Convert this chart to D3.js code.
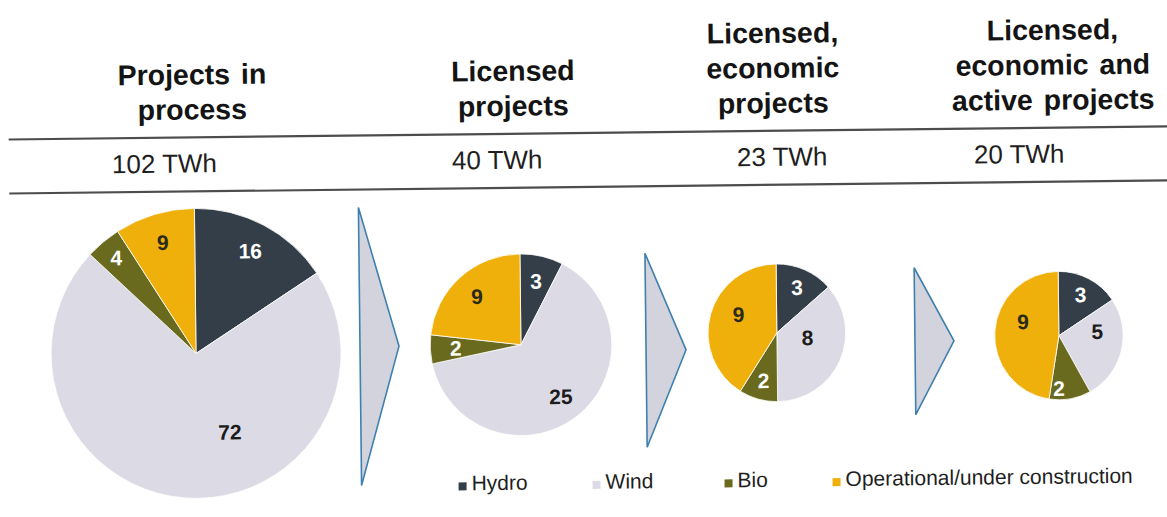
<!DOCTYPE html>
<html>
<head>
<meta charset="utf-8">
<script src="https://cdn.jsdelivr.net/npm/d3@7"></script>
<style>
  body { margin: 0; background: #fff; }
  svg { display: block; }
</style>
</head>
<body>
<svg id="chart" width="1167" height="517"></svg>
<script>
// ---- Data ----
const stageTitles = [
  ["Projects in", "process"],
  ["Licensed", "projects"],
  ["Licensed,", "economic", "projects"],
  ["Licensed,", "economic and", "active projects"]
];
const totals = [102, 40, 23, 20];               // TWh per stage
const seriesNames = ["Hydro", "Wind", "Bio", "Operational/under construction"];
const hydro       = [16, 3, 3, 3];
const wind        = [72, 25, 8, 5];
const bio         = [4, 2, 2, 2];
const operational = [9, 9, 9, 9];

// ---- Styles ----
const fill = {
  "Hydro": "#333e48",
  "Wind": "#dcdbe5",
  "Bio": "#6a6a1f",
  "Operational/under construction": "#efb00c"
};
const labelFill = {
  "Hydro": "#ffffff",
  "Wind": "#1c1c1c",
  "Bio": "#ffffff",
  "Operational/under construction": "#2a2a1a"
};

// ---- Layout ----
const W = 1167, H = 517;
const pieCx = [195, 520, 776, 1058];
const pieCy = [349, 344, 335, 341];
const headCx = [194, 515, 775, 1055];
const headBaseline = 115, headStep = 35;
const totalX = [113, 453, 738, 975];
const totalBaseline = 168;
const arrows = [ {x: 359, w: 39, cy: 344, h: 278},
                 {x: 645, w: 40, cy: 351, h: 194},
                 {x: 914, w: 39, cy: 345, h: 147} ];
const labelFrac = [0.8, 0.72, 0.72, 0.72];
// angular shift (deg) and radial fraction for labels set off their slice middle
const labelTweak = {
  "0|Wind": {d: -28, f: 0.59},
  "0|Bio": {d: 0, f: 0.86},
  "2|Wind": {d: -15, f: 0.45},
  "2|Operational/under construction": {d: 10, f: 0.62},
  "3|Wind": {d: -20, f: 0.6},
  "3|Operational/under construction": {d: 17, f: 0.6},
  "3|Bio": {d: 10, f: 0.82}
};

const svg = d3.select("#chart");
const defs = svg.append("defs");
const g = defs.append("linearGradient").attr("id", "baseRule")
  .attr("x1", "0%").attr("x2", "100%");
g.append("stop").attr("offset", "0%").attr("stop-color", "#f2f3f5");
g.append("stop").attr("offset", "100%").attr("stop-color", "#7d8c9c");

const root = svg.append("g").attr("transform", "rotate(-0.65 583 258)");

// header rules
root.append("line").attr("x1", 10).attr("x2", 1180).attr("y1", 133).attr("y2", 133)
  .attr("stroke", "#4d4d4f").attr("stroke-width", 2.2);
root.append("line").attr("x1", 10).attr("x2", 1180).attr("y1", 187).attr("y2", 187)
  .attr("stroke", "#4d4d4f").attr("stroke-width", 2.2);
root.append("line").attr("x1", 400).attr("x2", 1180).attr("y1", 515).attr("y2", 515)
  .attr("stroke", "url(#baseRule)").attr("stroke-width", 2.5);

// stage headings
stageTitles.forEach((lines, i) => {
  const t = root.append("text")
    .attr("text-anchor", "middle")
    .attr("font-family", "'Liberation Sans', Arial, sans-serif")
    .attr("font-weight", "bold")
    .attr("font-size", 28.5)
    .attr("word-spacing", 3)
    .attr("fill", "#141414");
  lines.forEach((s, k) => {
    t.append("tspan")
      .attr("x", headCx[i])
      .attr("y", headBaseline - (lines.length - 1 - k) * headStep)
      .text(s);
  });
});

// totals row
root.selectAll("text.total").data(totals).join("text")
  .attr("class", "total")
  .attr("x", (d, i) => totalX[i])
  .attr("y", totalBaseline)
  .attr("font-family", "'Liberation Sans', Arial, sans-serif")
  .attr("font-size", 26)
  .attr("fill", "#1e1e1e")
  .text(d => `${d} TWh`);

// flow arrows between stages
root.selectAll("path.arrow").data(arrows).join("path")
  .attr("class", "arrow")
  .attr("d", a => `M${a.x},${a.cy - a.h / 2}L${a.x + a.w},${a.cy}L${a.x},${a.cy + a.h / 2}Z`)
  .attr("fill", "#d3d3dd")
  .attr("stroke", "#3f80ae")
  .attr("stroke-width", 1.6)
  .attr("stroke-linejoin", "miter");

// pies, sized by area from the stage total
const rScale = d3.scaleSqrt().domain([0, d3.max(totals)]).range([0, 145]);
const pie = d3.pie().sort(null).value(d => d.value);

totals.forEach((total, i) => {
  const slices = seriesNames.map((name, k) => ({
    name,
    value: [hydro, wind, bio, operational][k][i]
  }));
  const r = rScale(total);
  const arcs = pie(slices);
  const arc = d3.arc().innerRadius(0).outerRadius(r);
  const pg = root.append("g").attr("transform", `translate(${pieCx[i]},${pieCy[i]})`);

  pg.selectAll("path").data(arcs).join("path")
    .attr("d", arc)
    .attr("fill", d => fill[d.data.name])
    .attr("stroke", "#ffffff")
    .attr("stroke-width", 0.8);

  pg.selectAll("text").data(arcs).join("text")
    .attr("transform", d => {
      const tw = labelTweak[`${i}|${d.data.name}`] || {d: 0, f: labelFrac[i]};
      const a = (d.startAngle + d.endAngle) / 2 + tw.d * Math.PI / 180;
      const rr = r * tw.f;
      return `translate(${Math.sin(a) * rr},${-Math.cos(a) * rr})`;
    })
    .attr("text-anchor", "middle")
    .attr("dy", "0.36em")
    .attr("font-family", "'Liberation Sans', Arial, sans-serif")
    .attr("font-weight", "bold")
    .attr("font-size", 21)
    .attr("fill", d => labelFill[d.data.name])
    .text(d => d.data.value);
});

// legend
const legendX = [456, 590, 722, 830];
const lg = root.append("g");
seriesNames.forEach((name, k) => {
  lg.append("rect")
    .attr("x", legendX[k]).attr("y", 481)
    .attr("width", 8).attr("height", 8)
    .attr("fill", fill[name]);
  lg.append("text")
    .attr("x", legendX[k] + 13).attr("y", 489)
    .attr("font-family", "'Liberation Sans', Arial, sans-serif")
    .attr("font-size", 21)
    .attr("fill", "#1e1e1e")
    .text(name);
});
</script>
</body>
</html>
